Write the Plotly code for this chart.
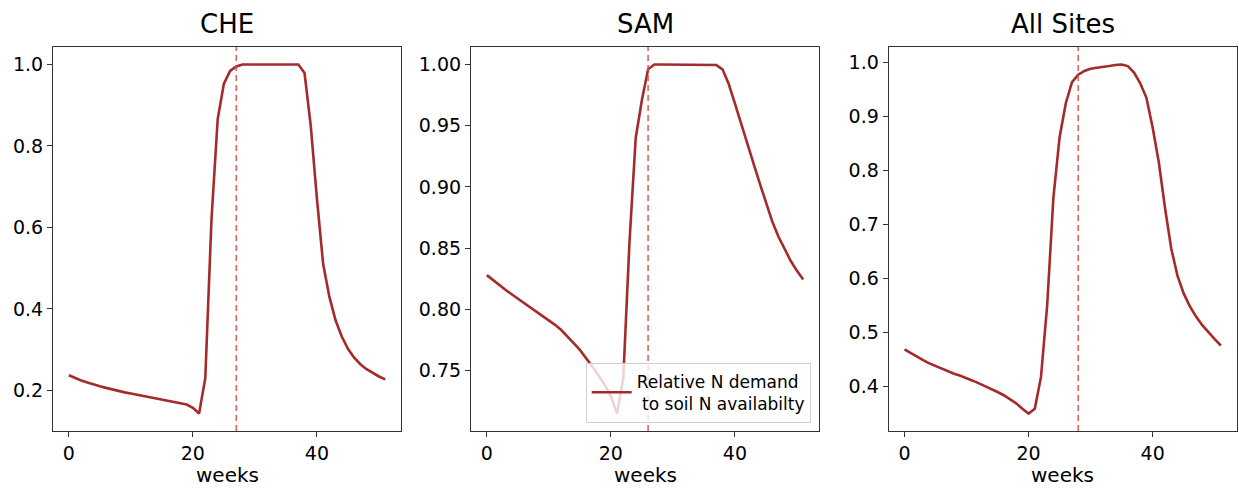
import plotly.graph_objects as go

weeks = list(range(52))

che = [0.237, 0.230, 0.224, 0.219, 0.214, 0.210, 0.206, 0.202, 0.198, 0.195,
       0.192, 0.189, 0.186, 0.183, 0.180, 0.177, 0.175, 0.172, 0.169, 0.165,
       0.157, 0.143, 0.230, 0.620, 0.866, 0.953, 0.984, 0.995, 1.0, 1.0,
       1.0, 1.0, 1.0, 1.0, 1.0, 1.0, 1.0, 1.0, 0.979, 0.850,
       0.670, 0.510, 0.430, 0.372, 0.332, 0.302, 0.280, 0.264, 0.252, 0.242,
       0.234, 0.227]

sam = [0.828, 0.8238, 0.8198, 0.8160, 0.8124, 0.8088, 0.8053, 0.8018, 0.7983, 0.7948,
       0.7912, 0.7874, 0.7832, 0.7782, 0.7725, 0.7670, 0.7605, 0.7535, 0.7460, 0.7385,
       0.7290, 0.7150, 0.744, 0.855, 0.940, 0.971, 0.996, 1.0, 1.0, 1.0,
       1.0, 1.0, 1.0, 1.0, 1.0, 1.0, 1.0, 0.9995, 0.996, 0.984,
       0.968, 0.951, 0.935, 0.919, 0.903, 0.887, 0.872, 0.8595, 0.849, 0.8395,
       0.8315, 0.8245]

all_sites = [0.468, 0.461, 0.454, 0.448, 0.442, 0.437, 0.432, 0.427, 0.423, 0.419,
             0.415, 0.410, 0.405, 0.400, 0.395, 0.389, 0.383, 0.376, 0.368, 0.358,
             0.349, 0.358, 0.417, 0.550, 0.750, 0.862, 0.925, 0.964, 0.978, 0.985,
             0.989, 0.991, 0.992, 0.994, 0.996, 0.997, 0.994, 0.982, 0.962, 0.935,
             0.880, 0.815, 0.730, 0.655, 0.605, 0.572, 0.548, 0.529, 0.513, 0.499,
             0.487, 0.475]

titles = ["CHE", "SAM", "All Sites"]
vlines = [27, 26, 28]
yticks = [[0.2, 0.4, 0.6, 0.8, 1.0],
          [0.75, 0.80, 0.85, 0.90, 0.95, 1.00],
          [0.4, 0.5, 0.6, 0.7, 0.8, 0.9, 1.0]]
ytick_text = [["0.2", "0.4", "0.6", "0.8", "1.0"],
              ["0.75", "0.80", "0.85", "0.90", "0.95", "1.00"],
              ["0.4", "0.5", "0.6", "0.7", "0.8", "0.9", "1.0"]]
xticks = [0, 20, 40]
legend_label = "Relative N demand<br> to soil N availabilty"
series = [che, sam, all_sites]

W, H = 1239, 495
x_domains = [(53 / W, 401 / W), (471 / W, 819 / W), (888.7 / W, 1236.7 / W)]
y_domain = (64 / H, 448 / H)

LINE = "#A52A2A"
VLINE = "rgba(222,70,70,0.85)"
FONT = "DejaVu Sans"

fig = go.Figure()
for i, ys in enumerate(series):
    xa = "x" if i == 0 else f"x{i+1}"
    ya = "y" if i == 0 else f"y{i+1}"
    fig.add_trace(go.Scatter(
        x=weeks, y=ys, mode="lines", xaxis=xa, yaxis=ya,
        line=dict(color=LINE, width=2.6),
        name=legend_label, showlegend=(i == 1),
    ))
    lo, hi = min(ys), max(ys)
    pad = 0.05 * (hi - lo)
    yr = [lo - pad, hi + pad]
    xpad = 0.05 * (weeks[-1] - weeks[0])
    xr = [weeks[0] - xpad, weeks[-1] + xpad]
    common = dict(showline=True, mirror=True, linecolor="#333", linewidth=1.2,
                  showgrid=False, zeroline=False, ticks="outside", ticklen=5,
                  tickwidth=1.2, tickcolor="#333",
                  tickfont=dict(family=FONT, size=19, color="black"))
    fig.layout[f"xaxis{'' if i == 0 else i+1}"] = dict(
        domain=list(x_domains[i]), range=xr, anchor=ya,
        tickvals=xticks, ticktext=[str(t) for t in xticks], **common)
    fig.layout[f"yaxis{'' if i == 0 else i+1}"] = dict(
        domain=list(y_domain), range=yr, anchor=xa,
        tickvals=yticks[i], ticktext=ytick_text[i], **common)
    fig.add_shape(type="line", xref=xa, yref=f"{ya} domain",
                  x0=vlines[i], x1=vlines[i], y0=0, y1=1,
                  line=dict(color=VLINE, width=1.6, dash="6px,4px"))
    cx = (x_domains[i][0] + x_domains[i][1]) / 2
    fig.add_annotation(text=titles[i], x=cx, y=1 - 24 / H, xref="paper", yref="paper",
                       showarrow=False, xanchor="center", yanchor="middle",
                       font=dict(family=FONT, size=26, color="black"))
    fig.add_annotation(text="weeks", x=cx, y=1 - 475 / H, xref="paper", yref="paper",
                       showarrow=False, xanchor="center", yanchor="middle",
                       font=dict(family=FONT, size=20, color="black"))

fig.update_layout(
    width=W, height=H,
    margin=dict(l=0, r=0, t=0, b=0),
    paper_bgcolor="white", plot_bgcolor="white",
    font=dict(family=FONT, size=16, color="black"),
    legend=dict(x=810.7 / W, y=(H - 422.7) / H, xanchor="right", yanchor="bottom",
                bgcolor="rgba(255,255,255,0.8)", bordercolor="#d0d0d0", borderwidth=1,
                font=dict(family=FONT, size=17, color="black"),
                itemwidth=40),
)

fig.write_html("out.html", config={"displayModeBar": False},
               post_script="document.body.style.margin='0';")
